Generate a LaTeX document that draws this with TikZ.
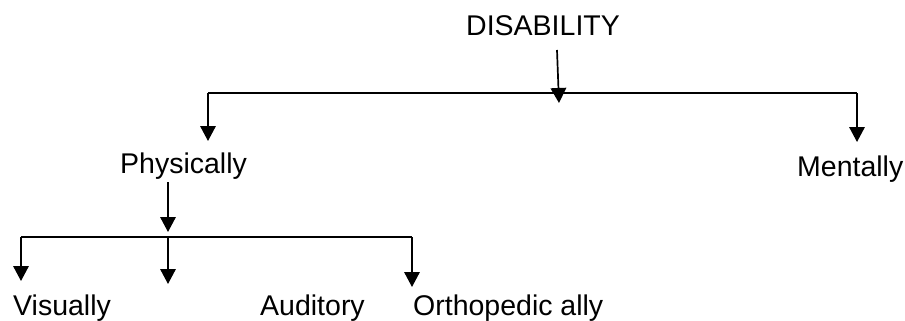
\documentclass[tikz,border=0pt]{standalone}
\usepackage{fontspec}
\setmainfont{Liberation Sans}
\usetikzlibrary{arrows.meta}
\begin{document}
\begin{tikzpicture}[x=1pt,y=-1pt,
  lbl/.style={inner sep=0pt,anchor=base west,font=\fontsize{28.5}{32}\selectfont},
  ln/.style={line width=1.7pt},
  arr/.style={ln,-{Triangle[width=15.5pt,length=15pt]}}]
\useasboundingbox (0,0) rectangle (905,321);
% nodes
\node[lbl] (dis) at (466,36) {DISABILITY};
\node[lbl] (phy) at (120,173) {Physically};
\node[lbl] (men) at (797,176) {Mentally};
\node[lbl] (vis) at (13,315) {Visually};
\node[lbl] (aud) at (260,315) {Auditory};
\node[lbl] (ort) at (413,315) {Orthopedic ally};
% junction coordinates
\coordinate (d0) at (557,50);
\coordinate (d1) at (559,103);
\coordinate (hL) at (208,93);
\coordinate (hR) at (857,93);
\coordinate (pT) at (208,141);
\coordinate (mT) at (857,142);
\coordinate (p0) at (168,182);
\coordinate (p1) at (168,232);
\coordinate (bL) at (21,237);
\coordinate (bM) at (168,237);
\coordinate (bR) at (412,237);
\coordinate (vT) at (21,281);
\coordinate (aT) at (168,284);
\coordinate (oT) at (412,287);
% connectors
\draw[arr] (d0) -- (d1);
\draw[ln] (hL) -- (hR);
\draw[arr] (hL) -- (pT);
\draw[arr] (hR) -- (mT);
\draw[arr] (p0) -- (p1);
\draw[ln] (bL) -- (bR);
\draw[arr] (bL) -- (vT);
\draw[arr] (bM) -- (aT);
\draw[arr] (bR) -- (oT);
\end{tikzpicture}
\end{document}
